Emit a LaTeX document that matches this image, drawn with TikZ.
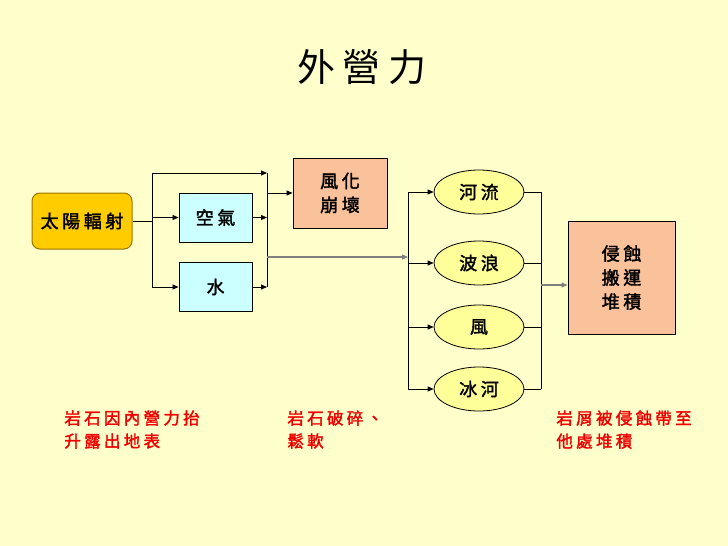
\documentclass[tikz,border=0pt]{standalone}
\usepackage{fontspec}
\setmainfont{Noto Sans CJK TC}[LetterSpace=20]
\newfontfamily\heavyfont{Noto Sans CJK TC}[LetterSpace=20, FakeBold=2]
\usetikzlibrary{shapes.geometric,arrows.meta}
\definecolor{paper}{HTML}{FFFFCC}
\definecolor{sungold}{HTML}{FFCC00}
\definecolor{sunedge}{HTML}{9A7400}
\definecolor{skyblue}{HTML}{CCFFFF}
\definecolor{peach}{HTML}{FAC29A}
\definecolor{lemon}{HTML}{FFFF99}
\definecolor{linkgray}{HTML}{808080}
\definecolor{notered}{HTML}{EE0000}
\tikzset{
  boxtext/.style={font=\heavyfont\fontsize{18}{24}\selectfont, align=center, inner sep=0pt},
  sunbox/.style={boxtext, draw=sunedge, fill=sungold, line width=1pt, rounded corners=8pt, minimum width=100pt, minimum height=56pt},
  gasbox/.style={boxtext, draw, fill=skyblue, line width=0.9pt, minimum width=73pt, minimum height=49pt},
  rockbox/.style={boxtext, draw, fill=peach, line width=0.9pt},
  agent/.style={boxtext, ellipse, draw, fill=lemon, line width=0.8pt, minimum width=90pt, minimum height=44pt},
  note/.style={font=\heavyfont\fontsize{16.5}{23}\selectfont, text=notered, align=left, anchor=north west, inner sep=0pt}
}

\begin{document}
\begin{tikzpicture}[x=1pt, y=-1pt, >={Stealth[length=6pt,width=5pt,inset=0pt]}, line join=round, line width=0.8pt]
	% 背景與邊界
	\fill[paper] (0,0) rectangle (728,546);
	\useasboundingbox (0,0) rectangle (728,546);
	% 標題
	\node[font=\fontsize{38}{42}\selectfont] (title) at (362,67) {外營力};
	% 主要方框
	\node[sunbox] (sun) at (82,221) {太陽輻射};
	\node[gasbox] (air) at (215.5,217.5) {空氣};
	\node[gasbox] (water) at (215.5,287) {水};
	\node[rockbox, minimum width=94pt, minimum height=70pt] (weather) at (340,193) {風化\\崩壞};
	\node[rockbox, minimum width=107pt, minimum height=113pt] (erode) at (621.5,277.5) {侵蝕\\搬運\\堆積};
	% 營力橢圓
	\node[agent] (river) at (479,192) {河流};
	\node[agent] (wave) at (479,263) {波浪};
	\node[agent] (wind) at (479,327) {風};
	\node[agent] (glacier) at (479,389) {冰河};
	% 分岔點
	\path (152,173) coordinate (s1)
	(152,287) coordinate (s2)
	(267,173) coordinate (m1)
	(267,287) coordinate (m2)
	(267,257) coordinate (m3)
	(408,192) coordinate (k1)
	(408,389) coordinate (k2)
	(541,192) coordinate (r1)
	(541,389) coordinate (r2)
	(541,285) coordinate (r3);
	% 太陽輻射分到空氣與水
	\draw (sun.east) -- (sun.east -| s1);
	\draw (s1) -- (s2);
	\draw[->] (s1) -- (m1);
	\draw[->] (s1 |- air.west) -- (air.west);
	\draw[->] (s2) -- (water.west);
	\draw[->] (air.east) -- (air.east -| m1);
	\draw[->] (water.east) -- (m2);
	\draw (m1) -- (m2);
	\draw[->] (m1 |- weather.west) -- (weather.west);
	\draw[->, linkgray, line width=1.2pt] (m3) -- (m3 -| k1);
	% 營力分支
	\draw (k1) -- (k2);
	\draw (r1) -- (r2);
	\foreach \e in {river, wave, wind, glacier} {
		\draw[->] (\e.west -| k1) -- (\e.west);
		\draw (\e.east) -- (\e.east -| r1);
	}
	\draw[->, linkgray, line width=1.2pt] (r3) -- (r3 -| erode.west);
	% 說明文字
	\node[note] (uplift) at (64,410) {岩石因內營力抬\\升露出地表};
	\node[note] (break) at (287,410) {岩石破碎、\\鬆軟};
	\node[note] (carry) at (556,410) {岩屑被侵蝕帶至\\他處堆積};
\end{tikzpicture}
\end{document}
